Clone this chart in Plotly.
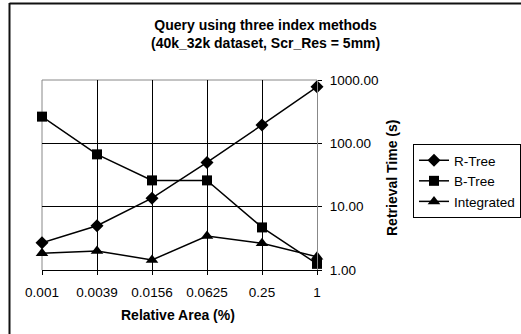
import plotly.graph_objects as go

categories = ["0.001", "0.0039", "0.0156", "0.0625", "0.25", "1"]
r_tree = [2.7, 5.0, 13.6, 50, 195, 780]
b_tree = [264, 67, 26, 26, 4.7, 1.25]
integrated = [1.84, 2.0, 1.44, 3.44, 2.64, 1.62]
y_ticks = [1, 10, 100, 1000]
y_tick_labels = ["1.00", "10.00", "100.00", "1000.00"]

FONT = "Liberation Sans, Arial, sans-serif"
# The original chart is cropped on the right; the figure is a little wider than the 521px view.
W, H = 545, 334
L, R, T, B = 42, 317, 80, 270

fig = go.Figure()
series = [("R-Tree", r_tree, "diamond", 10), ("B-Tree", b_tree, "square", 10), ("Integrated", integrated, "triangle-up", 11)]
for name, vals, sym, sz in series:
    fig.add_trace(go.Scatter(
        x=list(range(len(categories))), y=vals, name=name, mode="lines+markers",
        line=dict(color="black", width=1.5),
        marker=dict(symbol=sym, size=sz, color="black"),
        cliponaxis=False,
    ))

def px_x(px):
    return (px - L) / (R - L)

def px_y(py):
    return (B - py) / (B - T)

def hline(x0, x1, y, color="black", width=1, layer="above"):
    return dict(type="line", xref="paper", yref="paper", x0=px_x(x0), x1=px_x(x1), y0=px_y(y), y1=px_y(y),
                layer=layer, line=dict(color=color, width=width))

def vline(x, y0, y1, color="black", width=1, layer="above"):
    return dict(type="line", xref="paper", yref="paper", x0=px_x(x), x1=px_x(x), y0=px_y(y0), y1=px_y(y1),
                layer=layer, line=dict(color=color, width=width))

shapes = [
    hline(9.5, 560, 3.5, "#111", 2),
    vline(9.5, 3, 340, "#111", 2),
    hline(L, R, T, "#888", 1, "between"),
    vline(L, T, B, "#888", 1, "between"),
]

annotations = [
    dict(text="<b>Query using three index methods</b><br><b>(40k_32k dataset, Scr_Res = 5mm)</b>",
         xref="paper", yref="paper", x=px_x(265), y=px_y(34), showarrow=False,
         font=dict(family=FONT, size=14, color="black"), xanchor="center", yanchor="middle"),
    dict(text="<b>Relative Area (%)</b>", xref="paper", yref="paper", x=px_x(178), y=px_y(315),
         showarrow=False, font=dict(family=FONT, size=14, color="black"), xanchor="center", yanchor="middle"),
    dict(text="<b>Retrieval Time (s)</b>", xref="paper", yref="paper", x=px_x(392), y=px_y(178),
         showarrow=False, textangle=-90, font=dict(family=FONT, size=14, color="black"),
         xanchor="center", yanchor="middle"),
]

fig.update_layout(
    width=W, height=H,
    margin=dict(l=L, r=W - R, t=T, b=H - B, pad=0),
    paper_bgcolor="white", plot_bgcolor="white",
    font=dict(family=FONT, size=13.5, color="black"),
    showlegend=True,
    legend=dict(x=px_x(413), y=px_y(144), xanchor="left", yanchor="top",
                borderwidth=1, bordercolor="black", bgcolor="white",
                font=dict(family=FONT, size=13.5, color="black"),
                tracegroupgap=0, itemwidth=30),
    shapes=shapes,
    annotations=annotations,
    xaxis=dict(
        range=[0, len(categories) - 1], tickmode="array",
        tickvals=list(range(len(categories))), ticktext=categories,
        showgrid=True, gridcolor="black", gridwidth=1,
        showline=True, linecolor="black", linewidth=1,
        ticks="outside", ticklen=4, tickcolor="black", ticklabelstandoff=6,
        tickfont=dict(family=FONT, size=13.5, color="black"),
        zeroline=False, fixedrange=True,
    ),
    yaxis=dict(
        type="log", range=[0, 3], side="right",
        tickmode="array", tickvals=y_ticks, ticktext=y_tick_labels,
        showgrid=True, gridcolor="black", gridwidth=1,
        showline=True, linecolor="#888", linewidth=1,
        ticks="outside", ticklen=4, tickcolor="black", ticklabelstandoff=5,
        tickfont=dict(family=FONT, size=13.5, color="black"),
        zeroline=False, fixedrange=True,
    ),
)

fig.write_html("out.html", config={"displayModeBar": False},
               post_script="document.body.style.margin='0';document.body.style.overflow='hidden';")
